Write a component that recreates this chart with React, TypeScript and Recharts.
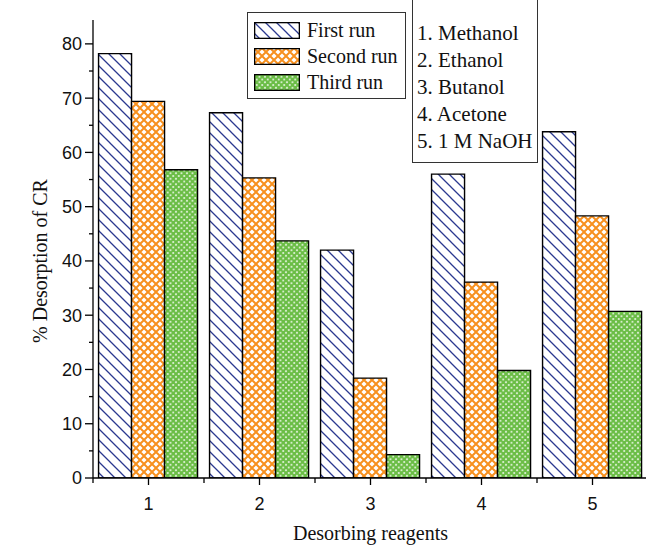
import { BarChart, Bar, XAxis, YAxis, Legend, Label } from 'recharts';

const reagents = ['1', '2', '3', '4', '5'];
const reagentNames = ['1. Methanol', '2. Ethanol', '3. Butanol', '4. Acetone', '5. 1 M NaOH'];
const firstRun = [78.2, 67.3, 42.0, 56.0, 63.8];
const secondRun = [69.4, 55.3, 18.4, 36.1, 48.3];
const thirdRun = [56.8, 43.7, 4.3, 19.8, 30.7];
const yTicks = [0, 5, 10, 15, 20, 25, 30, 35, 40, 45, 50, 55, 60, 65, 70, 75, 80];

const data = reagents.map((r, i) => ({
  reagent: r,
  first: firstRun[i],
  second: secondRun[i],
  third: thirdRun[i],
}));

const W = 660;
const H = 548;
const margin = { top: 20, right: 12, left: 33, bottom: 6 };
const Y_AXIS_W = 60;
const X_AXIS_H = 64;
const plotW = W - margin.left - margin.right - Y_AXIS_W;
const halfBand = plotW / reagents.length / 2;

const TICK = 8;
const TICK_GAP = 3;
const X_TICK = 7;
const X_TICK_GAP = 12;

const serif = '"Liberation Serif", "Times New Roman", serif';
const sans = '"Liberation Sans", Arial, sans-serif';

const fills: Record<string, string> = {
  first: 'url(#hatchBlue)',
  second: 'url(#meshOrange)',
  third: 'url(#meshGreen)',
};

function Patterns() {
  return (
    <svg width={0} height={0} style={{ position: 'absolute' }}>
      <defs>
        <pattern id="hatchBlue" patternUnits="userSpaceOnUse" width={11} height={11}>
          <rect width={11} height={11} fill="#fff" />
          <path d="M-1,-1 L12,12 M-1,10 L1,12 M10,-1 L12,1" stroke="#2b3990" strokeWidth={1.3} />
        </pattern>
        <pattern id="meshOrange" patternUnits="userSpaceOnUse" width={8} height={8}>
          <rect width={8} height={8} fill="#fff" />
          <path d="M0,0 L8,8 M8,0 L0,8" stroke="#f7901e" strokeWidth={2} />
        </pattern>
        <pattern id="meshGreen" patternUnits="userSpaceOnUse" width={5.5} height={5.5}>
          <rect width={5.5} height={5.5} fill="#fff" />
          <path d="M0,0 L5.5,5.5 M5.5,0 L0,5.5" stroke="#6abd45" strokeWidth={2.3} />
        </pattern>
      </defs>
    </svg>
  );
}

// y ticks: labelled major every 10, short minor in between
function YTick(props: any) {
  const { x, y, payload } = props;
  const axisX = x + TICK + TICK_GAP;
  const major = payload.value % 10 === 0;
  return (
    <g>
      <line x1={axisX - (major ? TICK : 4)} y1={y} x2={axisX} y2={y} stroke="#000" strokeWidth={1.3} />
      {major && (
        <text x={x} y={y} dy="0.36em" textAnchor="end" fontFamily={sans} fontSize={18} fill="#111">
          {payload.value}
        </text>
      )}
    </g>
  );
}

// x ticks: major at category centre, minor at category edges
function XTick(props: any) {
  const { x, y, payload, index } = props;
  const axisY = y - X_TICK - X_TICK_GAP;
  return (
    <g>
      <line x1={x} y1={axisY} x2={x} y2={axisY + X_TICK} stroke="#000" strokeWidth={1.3} />
      <line x1={x - halfBand} y1={axisY} x2={x - halfBand} y2={axisY + 5} stroke="#000" strokeWidth={1.3} />
      {index === reagents.length - 1 && (
        <line x1={x + halfBand} y1={axisY} x2={x + halfBand} y2={axisY + 5} stroke="#000" strokeWidth={1.3} />
      )}
      <text x={x} y={y} dy="0.7em" textAnchor="middle" fontFamily={sans} fontSize={18} fill="#111">
        {payload.value}
      </text>
    </g>
  );
}

function XTitle(props: any) {
  const { viewBox } = props;
  return (
    <text
      x={viewBox.x + viewBox.width / 2}
      y={viewBox.y + viewBox.height - 2}
      textAnchor="middle"
      fontFamily={serif}
      fontSize={20}
      fill="#111"
    >
      Desorbing reagents
    </text>
  );
}

function YTitle(props: any) {
  const { viewBox } = props;
  const cx = viewBox.x + 14;
  const cy = viewBox.y + viewBox.height / 2 + 12;
  return (
    <text
      x={cx}
      y={cy}
      transform={`rotate(-90, ${cx}, ${cy})`}
      textAnchor="middle"
      fontFamily={serif}
      fontSize={20}
      fill="#111"
    >
      % Desorption of CR
    </text>
  );
}

function RunLegend(props: any) {
  const items = props.payload || [];
  return (
    <div
      style={{
        width: 159,
        height: 87,
        boxSizing: 'border-box',
        border: '1.3px solid #333',
        background: '#fff',
        padding: '9px 0 0 6px',
        fontFamily: serif,
        fontSize: 20,
        color: '#111',
      }}
    >
      {items.map((e: any) => (
        <div key={e.dataKey} style={{ display: 'flex', alignItems: 'center', height: 17, marginBottom: 9 }}>
          <svg width={46} height={17} style={{ display: 'block' }}>
            <rect x={0.65} y={0.65} width={44.7} height={15.7} fill={fills[e.dataKey]} stroke="#000" strokeWidth={1.3} />
          </svg>
          <span style={{ marginLeft: 7, lineHeight: '17px', whiteSpace: 'nowrap' }}>{e.value}</span>
        </div>
      ))}
    </div>
  );
}

export default function App() {
  return (
    <div style={{ position: 'absolute', left: 0, top: 0, width: 646, height: 548, overflow: 'hidden', background: '#fff' }}>
      <Patterns />
      <BarChart width={W} height={H} data={data} margin={margin} barCategoryGap="5%" barGap={0}>
        <XAxis
          dataKey="reagent"
          height={X_AXIS_H}
          interval={0}
          axisLine={{ stroke: '#000', strokeWidth: 1.3 }}
          tickLine={{ stroke: 'none' }}
          tickSize={X_TICK}
          tickMargin={X_TICK_GAP}
          tick={<XTick />}
        >
          <Label content={<XTitle />} />
        </XAxis>
        <YAxis
          width={Y_AXIS_W}
          domain={[0, 84.4]}
          ticks={yTicks}
          interval={0}
          allowDataOverflow
          axisLine={{ stroke: '#000', strokeWidth: 1.3 }}
          tickLine={{ stroke: 'none' }}
          tickSize={TICK}
          tickMargin={TICK_GAP}
          tick={<YTick />}
        >
          <Label content={<YTitle />} />
        </YAxis>
        <Legend
          layout="vertical"
          align="center"
          verticalAlign="middle"
          content={<RunLegend />}
          wrapperStyle={{ left: 247, top: 12, width: 159, height: 87 }}
        />
        <Bar dataKey="first" name="First run" fill={fills.first} stroke="#000" strokeWidth={1.4} isAnimationActive={false} />
        <Bar dataKey="second" name="Second run" fill={fills.second} stroke="#000" strokeWidth={1.4} isAnimationActive={false} />
        <Bar dataKey="third" name="Third run" fill={fills.third} stroke="#000" strokeWidth={1.4} isAnimationActive={false} />
      </BarChart>
      <div
        style={{
          position: 'absolute',
          left: 412,
          top: -2,
          width: 126,
          height: 165,
          boxSizing: 'border-box',
          border: '1.3px solid #333',
          background: '#fff',
          padding: '21px 0 0 4px',
          fontFamily: serif,
          fontSize: 21,
          lineHeight: '27px',
          color: '#111',
        }}
      >
        {reagentNames.map((n) => (
          <div key={n} style={{ whiteSpace: 'nowrap' }}>{n}</div>
        ))}
      </div>
    </div>
  );
}
